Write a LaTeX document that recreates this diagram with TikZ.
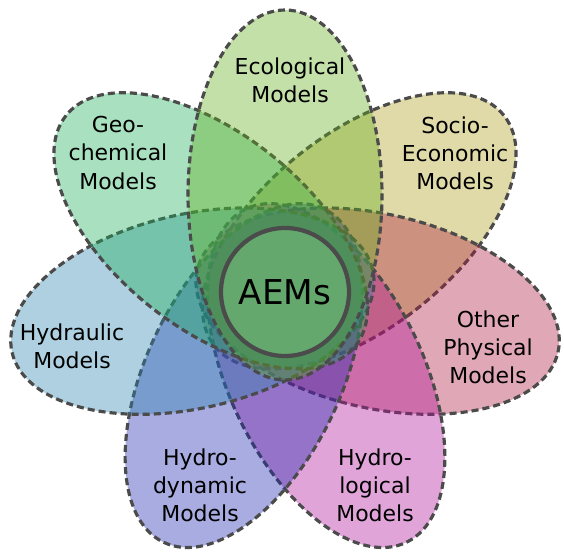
\documentclass[tikz,border=0pt]{standalone}
\usepackage{fontspec}
\setmainfont{DejaVu Sans}
\usepackage{xcolor}
\usetikzlibrary{positioning}

% petal colours (full strength, shown at low opacity)
\definecolor{ecoC}{RGB}{97,174,26}
\definecolor{socioC}{RGB}{174,158,26}
\definecolor{otherC}{RGB}{174,26,63}
\definecolor{hydrologC}{RGB}{174,16,153}
\definecolor{hydrodynC}{RGB}{26,37,174}
\definecolor{hydraulC}{RGB}{42,132,174}
\definecolor{geoC}{RGB}{26,174,89}
\definecolor{rimC}{RGB}{75,75,75}
\definecolor{aemsC}{RGB}{104,172,112}

\begin{document}
\begin{tikzpicture}[petal/.style={draw=rimC, line width=1.8pt, dash pattern=on 4pt off 2.3pt, fill opacity=0.38},
petaltext/.style={font=\fontsize{12.5}{16}\selectfont, align=center, text=black},
hub/.style={circle, draw=rimC, line width=2.4pt, fill=aemsC, fill opacity=0.9, text opacity=1, minimum size=2.56cm, font=\fontsize{19.5}{23}\selectfont}]
\useasboundingbox (0,0) rectangle (11.28,11.08);
\coordinate (C) at (5.7,5.28);
% petals, lowest first (clockwise from Socio-Economic)
\draw[petal, fill=socioC, shift={(C)}, rotate=38.57] (1.9,0) ellipse (3.7 and 1.94);
\draw[petal, fill=otherC, shift={(C)}, rotate=-12.86] (1.9,0) ellipse (3.7 and 1.94);
\draw[petal, fill=hydrologC, shift={(C)}, rotate=-64.29] (1.9,0) ellipse (3.7 and 1.94);
\draw[petal, fill=hydrodynC, shift={(C)}, rotate=-115.71] (1.9,0) ellipse (3.7 and 1.94);
\draw[petal, fill=hydraulC, shift={(C)}, rotate=192.86] (1.9,0) ellipse (3.7 and 1.94);
\draw[petal, fill=geoC, shift={(C)}, rotate=141.43] (1.9,0) ellipse (3.7 and 1.94);
\draw[petal, fill=ecoC, shift={(C)}, rotate=90] (1.9,0) ellipse (3.7 and 1.94);
% centre
\node[hub] (aems) at (5.7,5.24) {AEMs};
% petal texts
\node[petaltext] (eco) at (5.8,9.48) {Ecological\\Models};
\node[petaltext] (geo) at (2.36,8.02) {Geo-\\chemical\\Models};
\node[petaltext] (socio) at (9.1,8.02) {Socio-\\Economic\\Models};
\node[petaltext] (hydraul) at (1.44,4.16) {Hydraulic\\Models};
\node[petaltext] (other) at (9.76,4.14) {Other\\Physical\\Models};
\node[petaltext] (hydrodyn) at (4.0,1.38) {Hydro-\\dynamic\\Models};
\node[petaltext] (hydrolog) at (7.5,1.38) {Hydro-\\logical\\Models};
\end{tikzpicture}
\end{document}
